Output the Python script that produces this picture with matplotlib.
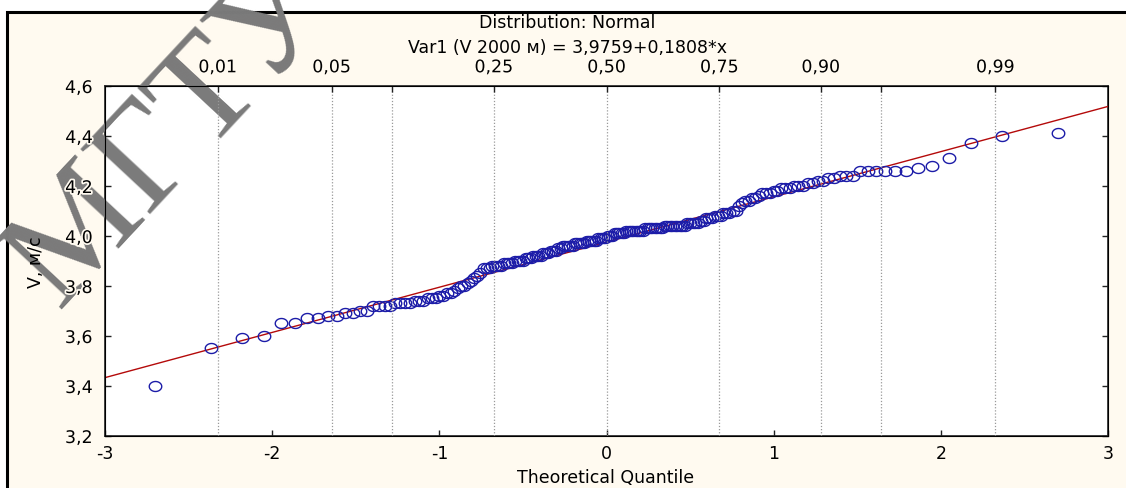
import matplotlib
matplotlib.use("Agg")
import matplotlib.pyplot as plt
import matplotlib.patheffects as pe
from matplotlib.patches import Rectangle
from matplotlib.path import Path
from statistics import NormalDist
import numpy as np

plt.rcParams['font.family'] = ['DejaVu Sans']
plt.rcParams['axes.unicode_minus'] = False
plt.rcParams['font.size'] = 12.5

# Sorted wind speed values V, m/s (n = 180)
speed = [3.40, 3.55, 3.59, 3.60, 3.65, 3.65, 3.67, 3.67, 3.68, 3.68,
         3.69, 3.69, 3.70, 3.70, 3.72, 3.72, 3.72, 3.72, 3.73, 3.73,
         3.73, 3.73, 3.74, 3.74, 3.74, 3.75, 3.75, 3.75, 3.76, 3.76,
         3.77, 3.77, 3.78, 3.79, 3.80, 3.80, 3.81, 3.82, 3.83, 3.84,
         3.85, 3.87, 3.87, 3.87, 3.88, 3.88, 3.88, 3.88, 3.89, 3.89,
         3.89, 3.89, 3.90, 3.90, 3.90, 3.90, 3.91, 3.91, 3.91, 3.92,
         3.92, 3.92, 3.92, 3.93, 3.93, 3.93, 3.94, 3.94, 3.94, 3.95,
         3.95, 3.96, 3.96, 3.96, 3.96, 3.96, 3.97, 3.97, 3.97, 3.97,
         3.97, 3.98, 3.98, 3.98, 3.98, 3.98, 3.99, 3.99, 3.99, 3.99,
         4.00, 4.00, 4.00, 4.01, 4.01, 4.01, 4.01, 4.01, 4.02, 4.02,
         4.02, 4.02, 4.02, 4.02, 4.02, 4.02, 4.03, 4.03, 4.03, 4.03,
         4.03, 4.03, 4.03, 4.03, 4.04, 4.04, 4.04, 4.04, 4.04, 4.04,
         4.04, 4.04, 4.04, 4.05, 4.05, 4.05, 4.05, 4.05, 4.06, 4.06,
         4.07, 4.07, 4.07, 4.08, 4.08, 4.08, 4.09, 4.09, 4.09, 4.10,
         4.10, 4.12, 4.13, 4.14, 4.14, 4.15, 4.15, 4.16, 4.17, 4.17,
         4.17, 4.18, 4.18, 4.19, 4.19, 4.19, 4.20, 4.20, 4.20, 4.21,
         4.21, 4.22, 4.22, 4.23, 4.23, 4.24, 4.24, 4.24, 4.26, 4.26,
         4.26, 4.26, 4.26, 4.26, 4.27, 4.28, 4.31, 4.37, 4.40, 4.41]

# fitted line Var1 = a + b*x
intercept = 3.9759
slope = 0.1808

prob_ticks = [0.01, 0.05, 0.10, 0.25, 0.50, 0.75, 0.90, 0.95, 0.99]
prob_labels = ['0,01', '0,05', '', '0,25', '0,50', '0,75', '0,90', '', '0,99']
x_ticks = [-3, -2, -1, 0, 1, 2, 3]
y_ticks = [3.2, 3.4, 3.6, 3.8, 4.0, 4.2, 4.4, 4.6]

# theoretical normal quantiles (Blom positions)
nd = NormalDist()
n = len(speed)
quant = [nd.inv_cdf((i + 1 - 0.375) / (n + 0.25)) for i in range(n)]
prob_pos = [nd.inv_cdf(p) for p in prob_ticks]

W, H = 1126, 489
fig = plt.figure(figsize=(W / 100, H / 100), dpi=100, facecolor='white')
bg = '#fffaf0'
fig.add_artist(Rectangle((7 / W, -0.1), 1.2, 1 - 13 / H + 0.1,
                         transform=fig.transFigure, facecolor=bg,
                         edgecolor='black', lw=2.2, zorder=0))

ax = fig.add_axes([105 / W, 1 - 437 / H, (1108 - 105) / W, (437 - 87) / H])
ax.set_facecolor('white')
ax.set_xlim(-3, 3)
ax.set_ylim(3.2, 4.6)

# open ellipse marker, a bit wider than tall
t = np.linspace(0, 2 * np.pi, 40)
ell = Path(np.column_stack([np.cos(t), 0.8 * np.sin(t)]), closed=True)

xl = np.array([-3, 3])
ax.plot(xl, intercept + slope * xl, color='#b40a0a', lw=1.0, zorder=3)
ax.plot(quant, speed, ls='none', marker=ell, ms=9, mfc='none',
        mec='#1c1ca8', mew=1.0, zorder=4)

ax.set_xticks(x_ticks)
ax.set_xticklabels([str(v) for v in x_ticks])
ax.set_yticks(y_ticks)
ax.set_yticklabels([f"{v:.1f}".replace('.', ',') for v in y_ticks])
ax.tick_params(direction='in', length=4, width=1, colors='#222222',
               labelcolor='black', right=True, top=False)
ax.tick_params(axis='y', pad=9)
ax.tick_params(axis='x', pad=6)
for s in ax.spines.values():
    s.set_color('#333333')
    s.set_linewidth(1.3)

ax2 = ax.twiny()
ax2.set_xlim(-3, 3)
ax2.set_xticks(prob_pos)
ax2.set_xticklabels(prob_labels)
ax2.tick_params(direction='in', length=4, width=1, colors='#222222',
                labelcolor='black', pad=7)
ax2.grid(axis='x', ls=(0, (1, 1.5)), color='#9a9a9a', lw=0.9)
ax2.set_axisbelow(True)

halo = [pe.withStroke(linewidth=2.5, foreground=bg)]
for lab in ax.get_yticklabels() + ax2.get_xticklabels():
    lab.set_path_effects(halo)
    lab.set_zorder(10)

fig.text(567 / W, 1 - 23 / H, 'Distribution: Normal', ha='center',
         va='center')
fig.text(567 / W, 1 - 48 / H, 'Var1 (V 2000 м) = 3,9759+0,1808*x',
         ha='center', va='center')
fig.text(606 / W, 1 - 478 / H, 'Theoretical Quantile', ha='center',
         va='center')
fig.text(36 / W, 1 - 262 / H, 'V, м/с', ha='center', va='center',
         rotation=90)

# watermark
ax.text(172 / W, 1 - 135 / H, 'МГТУ', transform=fig.transFigure,
        fontsize=106, family='Liberation Serif', color='#7a7a7a',
        rotation=47, ha='center', va='center', clip_on=False, zorder=6)
ax.yaxis.set_zorder(7)
ax.xaxis.set_zorder(7)

fig.savefig('out.png', dpi=100, facecolor=fig.get_facecolor())
